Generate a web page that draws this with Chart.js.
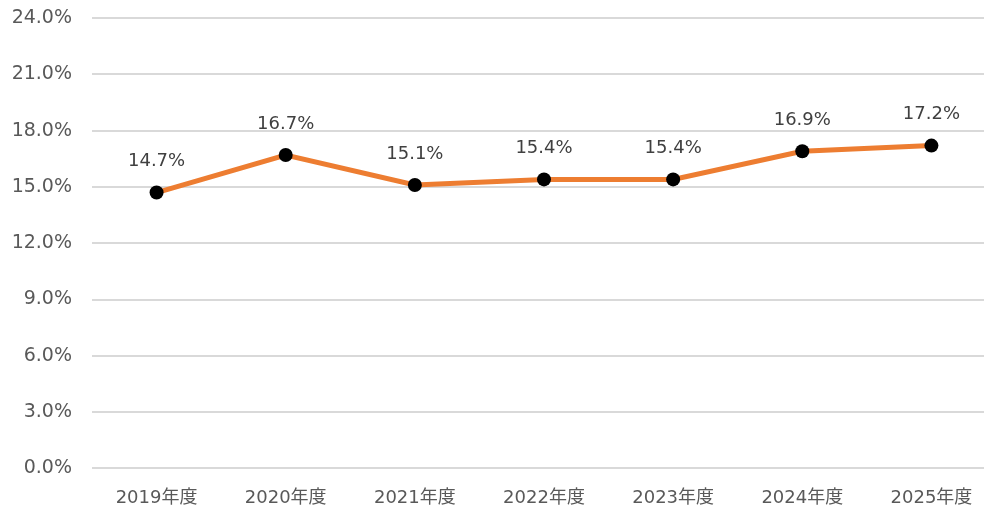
<!DOCTYPE html>
<html>
<head>
<meta charset="utf-8">
<script src="https://cdn.jsdelivr.net/npm/chart.js@4/dist/chart.umd.min.js"></script>
<style>
  html, body { margin:0; padding:0; background:#fff; overflow:hidden; }
  #wrap { width:996px; height:512px; }
</style>
</head>
<body>
<div id="wrap"><canvas id="rateChart"></canvas></div>
<script>
var categories = ['2019年度','2020年度','2021年度','2022年度','2023年度','2024年度','2025年度'];
var rates = [14.7, 16.7, 15.1, 15.4, 15.4, 16.9, 17.2];
var yTicks = [0, 3, 6, 9, 12, 15, 18, 21, 24];

var FONT = '"DejaVu Sans", "Noto Sans CJK JP", sans-serif';

// draws the value above each point
var valueLabels = {
    id: 'valueLabels',
    afterDatasetsDraw: function(chart){
        var c = chart.ctx;
        var meta = chart.getDatasetMeta(0);
        c.save();
        c.font = '18px ' + FONT;
        c.fillStyle = '#404040';
        c.textAlign = 'center';
        c.textBaseline = 'middle';
        meta.data.forEach(function(pt, i){
            c.fillText(rates[i].toFixed(1) + '%', pt.x, pt.y - 31);
        });
        c.restore();
    }
};

document.addEventListener('DOMContentLoaded', function(){
    var ctx = document.getElementById('rateChart');
    new Chart(ctx, {
        type: 'line',
        data: {
            labels: categories,
            datasets: [{
                data: rates,
                borderColor: '#ed7d31',
                borderWidth: 5,
                pointRadius: 7,
                pointBackgroundColor: '#000',
                pointBorderColor: '#000',
                pointBorderWidth: 0,
                tension: 0
            }]
        },
        options: {
            responsive: true,
            maintainAspectRatio: false,
            animation: false,
            layout: { autoPadding: false, padding: { top: 18, left: 0, right: 0, bottom: -16 } },
            plugins: { legend: { display: false }, tooltip: { enabled: false } },
            scales: {
                x: {
                    offset: true,
                    grid: { display: false, drawTicks: false },
                    border: { display: false },
                    ticks: { color: '#595959', font: { family: FONT, size: 18 }, padding: 19 }
                },
                y: {
                    min: 0, max: 24,
                    afterBuildTicks: function(scale){
                        scale.ticks = yTicks.map(function(v){ return { value: v }; });
                    },
                    afterFit: function(scale){
                        scale.width = 92;
                        scale.paddingTop = 0;
                    },
                    grid: { color: '#d9d9d9', lineWidth: 2, drawTicks: false },
                    border: { display: false },
                    ticks: {
                        color: '#595959',
                        font: { family: FONT, size: 19 },
                        padding: 20,
                        callback: function(v){ return v.toFixed(1) + '%'; }
                    }
                }
            }
        },
        plugins: [valueLabels]
    });
});
</script>
</body>
</html>
